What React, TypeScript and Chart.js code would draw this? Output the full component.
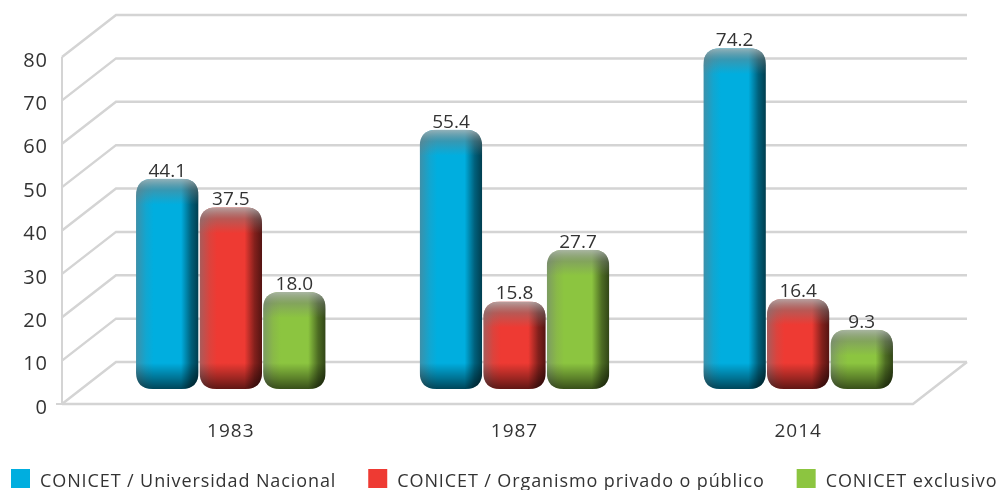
import React, { useEffect, useRef } from "react";
import { Chart, registerables } from "chart.js";

Chart.register(...registerables);

const categories = ["1983", "1987", "2014"];
const universidadNacional = [44.1, 55.4, 74.2];
const organismoPrivadoPublico = [37.5, 15.8, 16.4];
const conicetExclusivo = [18.0, 27.7, 9.3];
const seriesLabels = [
  "CONICET / Universidad Nacional",
  "CONICET / Organismo privado o público",
  "CONICET exclusivo",
];
const seriesColors = ["#00AEDF", "#EE3A33", "#8CC540"];
const yMin = 0;
const yMax = 80;
const yStep = 10;

const FONT = "'Open Sans', 'DejaVu Sans', sans-serif";
const TEXT = "#333333";
const GRID = "#d4d4d4";
const DX = 54;
const DY = 42;

function hexToRgb(h: string) {
  const n = parseInt(h.slice(1), 16);
  return [(n >> 16) & 255, (n >> 8) & 255, n & 255];
}
function mix(rgb: number[], t: number[], a: number) {
  return `rgb(${rgb.map((v, i) => Math.round(v * (1 - a) + t[i] * a)).join(",")})`;
}

const spacing = {
  id: "spacing",
  beforeDraw(chart: any) {
    (chart.ctx as any).letterSpacing = "1px";
  },
  beforeDatasetsDraw(chart: any) {
    (chart.ctx as any).letterSpacing = "0px";
  },
};

const grid3d = {
  id: "grid3d",
  beforeDatasetsDraw(chart: any) {
    const { ctx, chartArea, scales } = chart;
    const y = scales.y;
    const L = chartArea.left;
    const R = chartArea.right;
    ctx.save();
    ctx.strokeStyle = GRID;
    ctx.lineWidth = 2.5;
    ctx.lineCap = "butt";
    for (let v = yMin; v <= yMax; v += yStep) {
      const yf = y.getPixelForValue(v);
      ctx.beginPath();
      ctx.moveTo(L, yf);
      ctx.lineTo(L + DX, yf - DY);
      ctx.lineTo(R + DX, yf - DY);
      ctx.stroke();
    }
    const y0 = y.getPixelForValue(0);
    ctx.beginPath();
    ctx.moveTo(L, y0);
    ctx.lineTo(R, y0);
    ctx.lineTo(R + DX, y0 - DY);
    ctx.stroke();
    ctx.lineWidth = 2;
    ctx.beginPath();
    ctx.moveTo(L, y.getPixelForValue(yMax));
    ctx.lineTo(L, y0);
    ctx.moveTo(L - 6, y0);
    ctx.lineTo(L, y0);
    ctx.stroke();
    ctx.restore();
  },
};

function roundRectPath(ctx: CanvasRenderingContext2D, x: number, y: number, w: number, h: number, r: number) {
  const rr = Math.min(r, w / 2, h / 2);
  ctx.beginPath();
  ctx.moveTo(x + rr, y);
  ctx.lineTo(x + w - rr, y);
  ctx.quadraticCurveTo(x + w, y, x + w, y + rr);
  ctx.lineTo(x + w, y + h - rr);
  ctx.quadraticCurveTo(x + w, y + h, x + w - rr, y + h);
  ctx.lineTo(x + rr, y + h);
  ctx.quadraticCurveTo(x, y + h, x, y + h - rr);
  ctx.lineTo(x, y + rr);
  ctx.quadraticCurveTo(x, y, x + rr, y);
  ctx.closePath();
}

const bars3d = {
  id: "bars3d",
  afterDatasetsDraw(chart: any) {
    const { ctx } = chart;
    ctx.save();
    (ctx as any).letterSpacing = "0px";
    ctx.translate(DX / 2, -DY / 2);
    chart.data.datasets.forEach((ds: any, di: number) => {
      const meta = chart.getDatasetMeta(di);
      const rgb = hexToRgb(seriesColors[di]);
      meta.data.forEach((el: any, i: number) => {
        const { x, y, base, width } = el.getProps(["x", "y", "base", "width"], true);
        const left = x - width / 2 + 0.5;
        const w = width - 1;
        const top = y - 13;
        const bottom = base + 6;
        const h = bottom - top;
        ctx.save();
        roundRectPath(ctx, left, top, w, h, 17);
        ctx.clip();
        const hg = ctx.createLinearGradient(left, 0, left + w, 0);
        hg.addColorStop(0, mix(rgb, [110, 120, 125], 0.55));
        hg.addColorStop(0.16, mix(rgb, [120, 120, 120], 0.15));
        hg.addColorStop(0.28, seriesColors[di]);
        hg.addColorStop(0.72, seriesColors[di]);
        hg.addColorStop(0.88, mix(rgb, [0, 0, 0], 0.45));
        hg.addColorStop(1, mix(rgb, [0, 0, 0], 0.65));
        ctx.fillStyle = hg;
        ctx.fillRect(left, top, w, h);
        const vg = ctx.createLinearGradient(0, top, 0, top + 26);
        vg.addColorStop(0, "rgba(175,180,180,0.85)");
        vg.addColorStop(0.45, "rgba(120,125,125,0.45)");
        vg.addColorStop(1, "rgba(120,125,125,0)");
        ctx.fillStyle = vg;
        ctx.fillRect(left, top, w, 26);
        const bg = ctx.createLinearGradient(0, bottom - 26, 0, bottom);
        bg.addColorStop(0, "rgba(0,0,0,0)");
        bg.addColorStop(0.6, "rgba(0,0,0,0.35)");
        bg.addColorStop(1, "rgba(0,0,0,0.6)");
        ctx.fillStyle = bg;
        ctx.fillRect(left, bottom - 26, w, 26);
        ctx.restore();
        ctx.fillStyle = TEXT;
        ctx.font = `19px ${FONT}`;
        ctx.textAlign = "center";
        ctx.textBaseline = "alphabetic";
        ctx.fillText(Number(ds.data[i]).toFixed(1), x, top - 2);
      });
    });
    ctx.restore();
  },
};

const legendPlugin = {
  id: "customLegend",
  afterDraw(chart: any) {
    const { ctx } = chart;
    ctx.save();
    (ctx as any).letterSpacing = "0.9px";
    ctx.font = `18px ${FONT}`;
    const box = 19;
    const gapText = 10;
    const gapItem = 32;
    let x = 11;
    const boxTop = 469;
    seriesLabels.forEach((l, i) => {
      const w = ctx.measureText(l).width;
      ctx.fillStyle = seriesColors[i];
      ctx.fillRect(x, boxTop, box, box);
      x += box + gapText;
      ctx.fillStyle = TEXT;
      ctx.textAlign = "left";
      ctx.textBaseline = "alphabetic";
      ctx.fillText(l, x, 487);
      x += w + gapItem;
    });
    ctx.restore();
  },
};

export default function App() {
  const ref = useRef<HTMLCanvasElement | null>(null);
  useEffect(() => {
    if (!ref.current) return;
    const chart = new Chart(ref.current, {
      type: "bar",
      data: {
        labels: categories,
        datasets: [universidadNacional, organismoPrivadoPublico, conicetExclusivo].map((d, i) => ({
          label: seriesLabels[i],
          data: d,
          backgroundColor: "rgba(0,0,0,0)",
          borderWidth: 0,
          categoryPercentage: 0.672,
          barPercentage: 1.0,
        })),
      },
      options: {
        responsive: false,
        animation: false,
        devicePixelRatio: 1,
        layout: { padding: { left: 0, top: 57, right: 88, bottom: 46 } },
        plugins: { legend: { display: false }, tooltip: { enabled: false } },
        scales: {
          x: {
            grid: { display: false, drawTicks: false },
            border: { display: false },
            ticks: { font: { size: 19, family: FONT }, color: TEXT, padding: 16, labelOffset: DX / 2 },
            afterFit: (s: any) => { s.height = 40; },
          },
          y: {
            min: yMin,
            max: yMax,
            grid: { display: false, drawTicks: false },
            border: { display: false },
            ticks: { stepSize: yStep, font: { size: 20, family: FONT }, color: TEXT, padding: 14, labelOffset: 4 },
            afterFit: (s: any) => { s.width = 62; },
          },
        },
      },
      plugins: [spacing, grid3d, bars3d, legendPlugin],
    });
    return () => chart.destroy();
  }, []);
  return (
    <div style={{ position: "absolute", left: 0, top: 0, width: 1001, height: 490, background: "#fff" }}>
      <canvas ref={ref} width={1001} height={490} />
    </div>
  );
}
